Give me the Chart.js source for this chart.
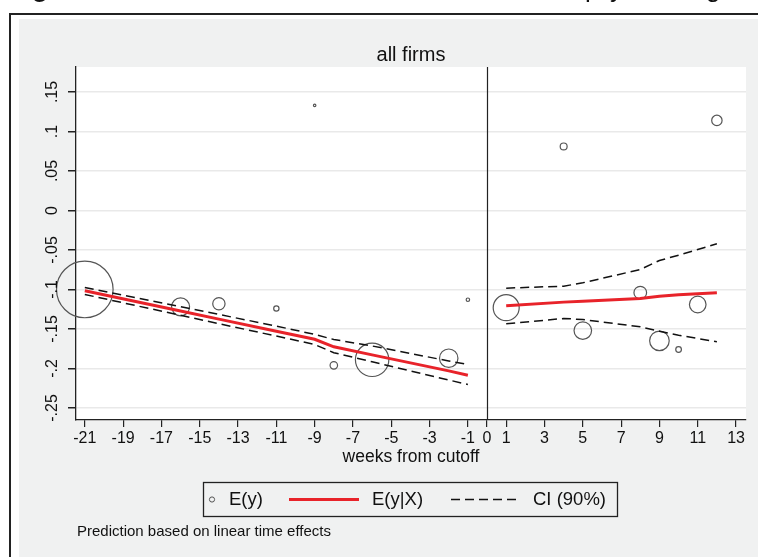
<!DOCTYPE html>
<html>
<head>
<meta charset="utf-8">
<script src="https://cdn.jsdelivr.net/npm/chart.js@4.4.0/dist/chart.umd.min.js"></script>
<style>
html, body { margin: 0; padding: 0; background: #fff; }
#wrap { width: 758px; height: 557px; }
</style>
</head>
<body>
<div id="wrap"><canvas id="rdChart" width="758" height="557"></canvas></div>
<script>
// cell means E(y) by week, with cell weights (marker area)
var weeks = [-21, -16, -14, -11, -9, -8, -6, -2, -1, 1, 4, 5, 8, 9, 10, 11, 12];
var meanY = [-0.100, -0.122, -0.118, -0.124, 0.133, -0.196, -0.189, -0.187, -0.113,
             -0.123, 0.081, -0.152, -0.104, -0.165, -0.176, -0.119, 0.114];
var cellWeight = [800, 81, 38, 7, 1.5, 14, 279, 85, 3, 169, 12, 77, 40, 96, 8, 69, 27];

// fitted E(y|X) and 90% CI, before cutoff
var weeksLeft = [-21, -16, -14, -11, -9, -8, -6, -2, -1];
var fitLeft   = [-0.1017, -0.1273, -0.1375, -0.1528, -0.1630, -0.1726, -0.1828, -0.2030, -0.2085];
var ciHiLeft  = [-0.0975, -0.1219, -0.1316, -0.1463, -0.1569, -0.1633, -0.1715, -0.1905, -0.1950];
var ciLoLeft  = [-0.1063, -0.1327, -0.1433, -0.1590, -0.1696, -0.1800, -0.1915, -0.2146, -0.2203];

// after cutoff
var weeksRight = [1, 4, 5, 8, 9, 10, 11, 12];
var fitRight   = [-0.1206, -0.1160, -0.1149, -0.1114, -0.1085, -0.1068, -0.1055, -0.1042];
var ciHiRight  = [-0.0983, -0.0958, -0.0916, -0.0747, -0.0633, -0.0566, -0.0494, -0.0422];
var ciLoRight  = [-0.1435, -0.1367, -0.1380, -0.1473, -0.1528, -0.1578, -0.1620, -0.1662];

var xTicks = [-21, -19, -17, -15, -13, -11, -9, -7, -5, -3, -1, 0, 1, 3, 5, 7, 9, 11, 13];
var yTicks = [-0.25, -0.2, -0.15, -0.1, -0.05, 0, 0.05, 0.1, 0.15];

var FONT = "'Liberation Sans', Arial, sans-serif";
var BG = '#f0f1f1';

function pts(xs, ys) {
    return xs.map(function (x, i) { return { x: x, y: ys[i] }; });
}

function stataNum(v) {
    var s = String(Math.round(v * 100) / 100);
    return s.replace(/^0\./, '.').replace(/^-0\./, '-.');
}

var frame = {
    id: 'frame',
    beforeDraw: function (chart) {
        var c = chart.ctx, a = chart.chartArea;
        c.save();
        c.fillStyle = '#fff';
        c.fillRect(0, 0, chart.width, chart.height);
        // cropped page caption above the figure
        c.fillStyle = '#111';
        c.font = 'bold 26px ' + FONT;
        c.textBaseline = 'alphabetic';
        c.fillText('Fig', 9, -3);
        c.font = '26px ' + FONT;
        c.fillText('p', 585, -3);
        c.fillText('y', 610, -3);
        c.fillText('g', 706, -3);
        // outer frame
        c.fillStyle = '#222';
        c.fillRect(9, 13, chart.width - 9, 2);
        c.fillRect(9, 13, 2, chart.height - 13);
        c.fillStyle = BG;
        c.fillRect(19, 19, chart.width - 19, chart.height - 19);
        c.fillStyle = '#fff';
        c.fillRect(a.left, a.top, a.right - a.left, a.bottom - a.top);
        c.restore();
    },
    beforeDatasetsDraw: function (chart) {
        var c = chart.ctx, a = chart.chartArea;
        var x0 = Math.round(chart.scales.x.getPixelForValue(0)) + 0.5;
        c.save();
        c.strokeStyle = '#222';
        c.lineWidth = 1.2;
        c.beginPath();
        c.moveTo(x0, a.top);
        c.lineTo(x0, a.bottom);
        c.stroke();
        c.restore();
    },
    afterDraw: function (chart) {
        var c = chart.ctx, a = chart.chartArea, ys = chart.scales.y;
        var mid = (a.left + a.right) / 2;
        c.save();
        c.fillStyle = '#111';
        // y tick labels, rotated
        c.font = '16px ' + FONT;
        c.textAlign = 'center';
        c.textBaseline = 'middle';
        yTicks.forEach(function (v) {
            c.save();
            c.translate(53, ys.getPixelForValue(v));
            c.rotate(-Math.PI / 2);
            c.fillText(stataNum(v), 0, 0);
            c.restore();
        });
        // title
        c.font = '20px ' + FONT;
        c.fillText('all firms', mid, 55);
        // x axis title
        c.font = '17.5px ' + FONT;
        c.fillText('weeks from cutoff', mid, 457);
        // legend
        c.strokeStyle = '#222';
        c.lineWidth = 1.3;
        c.strokeRect(203.5, 482.5, 414, 34);
        c.textAlign = 'left';
        c.font = '18.5px ' + FONT;
        c.strokeStyle = '#555';
        c.lineWidth = 1;
        c.beginPath();
        c.arc(212, 499.5, 2.6, 0, Math.PI * 2);
        c.stroke();
        c.fillText('E(y)', 229, 500);
        c.strokeStyle = '#e8232a';
        c.lineWidth = 3;
        c.beginPath();
        c.moveTo(289, 499.5);
        c.lineTo(359, 499.5);
        c.stroke();
        c.fillText('E(y|X)', 372, 500);
        c.strokeStyle = '#111';
        c.lineWidth = 1.5;
        c.setLineDash([9, 5]);
        c.beginPath();
        c.moveTo(451, 499.5);
        c.lineTo(521, 499.5);
        c.stroke();
        c.setLineDash([]);
        c.fillText('CI (90%)', 533, 500);
        // note
        c.font = '15px ' + FONT;
        c.fillText('Prediction based on linear time effects', 77, 532);
        c.restore();
    }
};

function lineSet(xs, ys, color, width, dash, order) {
    return {
        data: pts(xs, ys),
        showLine: true,
        borderColor: color,
        borderWidth: width,
        borderDash: dash,
        pointRadius: 0,
        tension: 0,
        fill: false,
        order: order
    };
}

var ctx = document.getElementById('rdChart').getContext('2d');

var chart = new Chart(ctx, {
    type: 'scatter',
    data: {
        datasets: [
            {
                label: 'E(y)',
                data: pts(weeks, meanY),
                pointRadius: function (p) { return Math.sqrt(cellWeight[p.dataIndex]); },
                pointBorderColor: '#555',
                pointBackgroundColor: 'rgba(0,0,0,0)',
                pointBorderWidth: 1.2,
                clip: false,
                order: 3
            },
            lineSet(weeksLeft, fitLeft, '#e8232a', 3, [], 1),
            lineSet(weeksLeft, ciHiLeft, '#111', 1.5, [9, 5], 2),
            lineSet(weeksLeft, ciLoLeft, '#111', 1.5, [9, 5], 2),
            lineSet(weeksRight, fitRight, '#e8232a', 3, [], 1),
            lineSet(weeksRight, ciHiRight, '#111', 1.5, [9, 5], 2),
            lineSet(weeksRight, ciLoRight, '#111', 1.5, [9, 5], 2)
        ]
    },
    options: {
        responsive: false,
        animation: false,
        layout: { autoPadding: false, padding: { left: 10, right: 12, top: 67, bottom: 0 } },
        plugins: {
            legend: { display: false },
            tooltip: { enabled: false }
        },
        scales: {
            x: {
                type: 'linear',
                min: -21.46,
                max: 13.52,
                afterBuildTicks: function (s) {
                    s.ticks = xTicks.map(function (v) { return { value: v }; });
                },
                afterFit: function (s) {
                    s.height = 137;
                    s.paddingLeft = 0;
                    s.paddingRight = 0;
                },
                ticks: {
                    autoSkip: false,
                    maxRotation: 0,
                    minRotation: 0,
                    padding: 2,
                    color: '#111',
                    font: { family: FONT, size: 16 },
                    callback: function (v) { return String(v); }
                },
                grid: { drawOnChartArea: false, tickLength: 7, tickColor: '#222', lineWidth: 1.2 },
                border: { color: '#222', width: 1.3 }
            },
            y: {
                type: 'linear',
                min: -0.2652,
                max: 0.1816,
                afterBuildTicks: function (s) {
                    s.ticks = yTicks.map(function (v) { return { value: v }; });
                },
                afterFit: function (s) {
                    s.width = 66;
                    s.paddingTop = 0;
                    s.paddingBottom = 0;
                },
                ticks: { display: false },
                grid: { color: '#e9e9e9', lineWidth: 1.5, tickLength: 8, tickColor: '#222' },
                border: { color: '#222', width: 1.3 }
            }
        }
    },
    plugins: [frame]
});
</script>
</body>
</html>
